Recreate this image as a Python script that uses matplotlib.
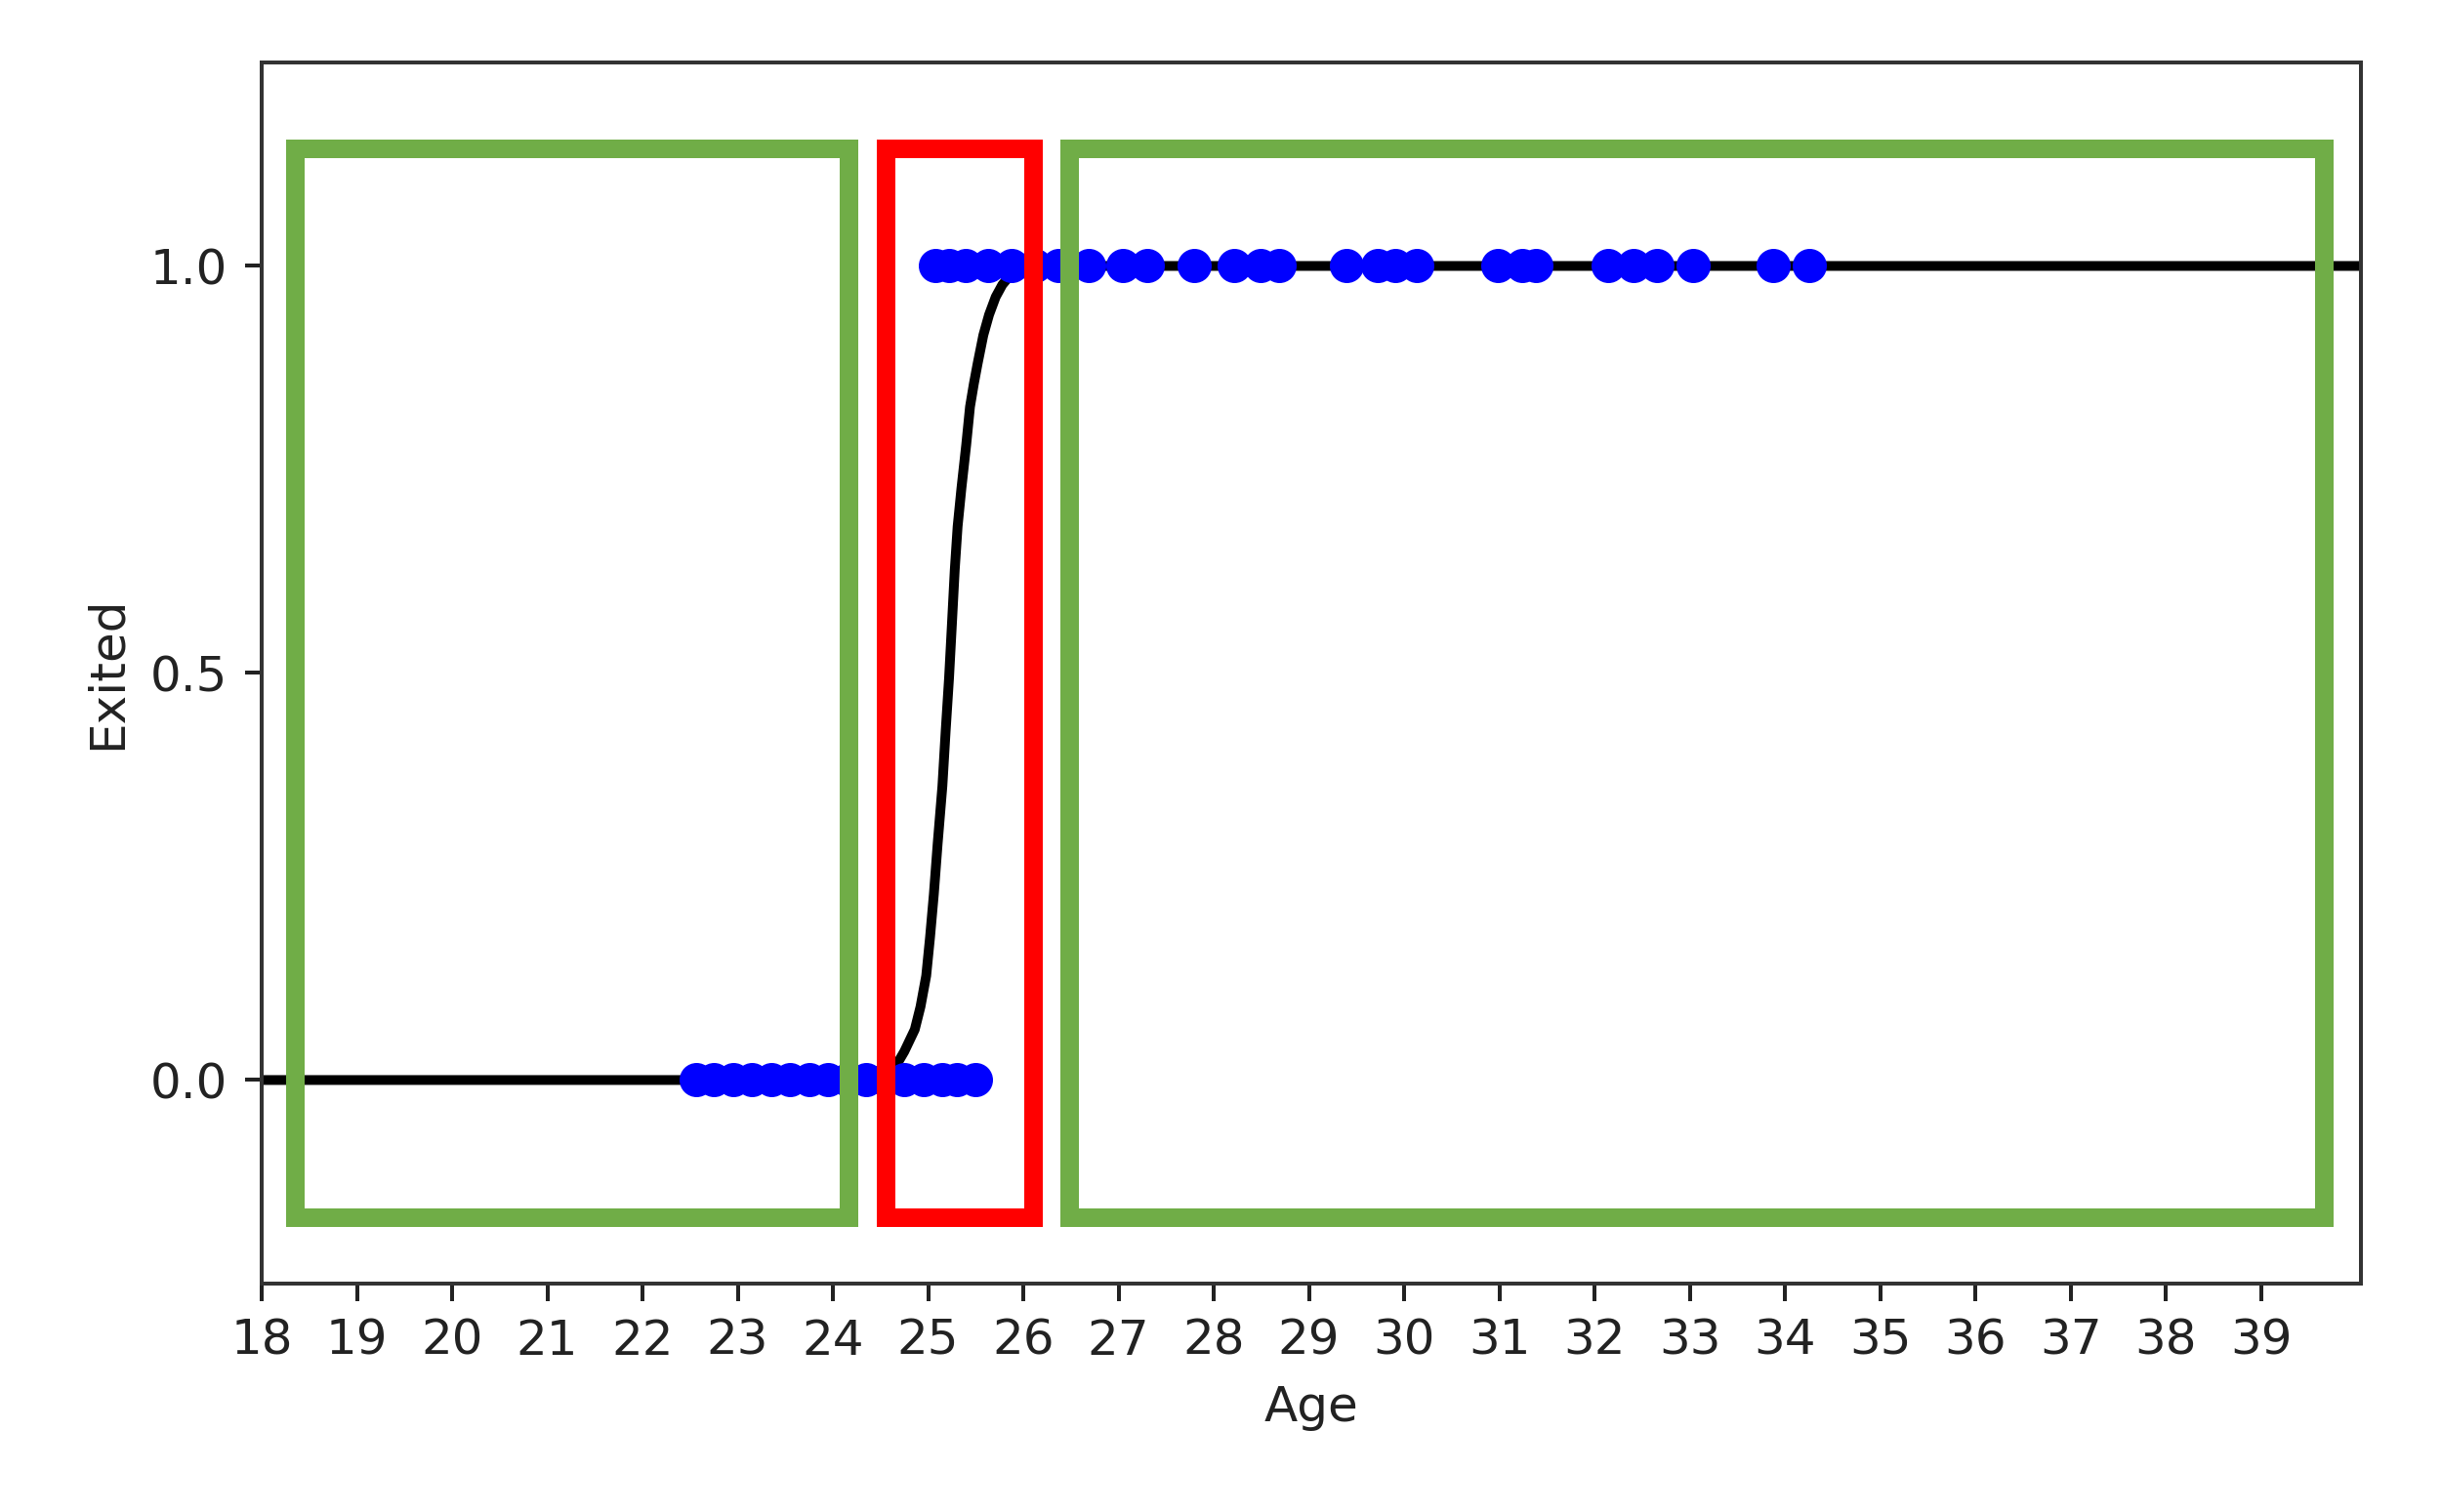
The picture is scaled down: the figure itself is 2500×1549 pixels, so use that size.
import matplotlib
matplotlib.use("Agg")
import matplotlib.pyplot as plt
from matplotlib.patches import Rectangle

# observed customers: age and exited flag
age_stayed = [22.56, 22.75, 22.95, 23.15, 23.35, 23.55, 23.75, 23.95, 24.15,
              24.35, 24.55, 24.75, 24.95, 25.15, 25.3, 25.5]
age_exited = [25.08, 25.22, 25.39, 25.63, 25.88, 26.12, 26.37, 26.69, 27.05,
              27.3, 27.79, 28.21, 28.49, 28.69, 29.39, 29.72, 29.91, 30.13,
              30.98, 31.24, 31.38, 32.14, 32.41, 32.66, 33.03, 33.88, 34.26]

# fitted logistic curve
curve_age = [18.0, 24.4, 24.55, 24.65, 24.75, 24.86, 24.92, 24.98, 25.02,
             25.06, 25.10, 25.15, 25.185, 25.22, 25.25, 25.28, 25.31, 25.35,
             25.40, 25.44, 25.48, 25.52, 25.58, 25.64, 25.71, 25.78, 25.83,
             25.88, 25.95, 26.05, 40.05]
curve_prob = [0.0, 0.0, 0.004, 0.015, 0.035, 0.062, 0.09, 0.128, 0.175,
              0.228, 0.29, 0.361, 0.43, 0.494, 0.56, 0.627, 0.68, 0.727,
              0.78, 0.827, 0.855, 0.880, 0.915, 0.940, 0.962, 0.977, 0.984,
              0.99, 0.996, 1.0, 1.0]

# highlighted regions (age_from, age_to, y_from, y_to)
green_regions = [(18.35, 24.16, -0.169, 1.144), (26.48, 39.66, -0.169, 1.144)]
red_regions = [(24.55, 26.10, -0.169, 1.144)]

fig = plt.figure(figsize=(2500 / 360, 1549 / 360), dpi=360)
ax = fig.add_axes([0.1072, 0.1511, 0.86, 0.8076])

ax.plot(curve_age, curve_prob, color="black", linewidth=2.0, zorder=2)
ax.scatter(age_stayed, [0] * len(age_stayed), color="blue", s=36, zorder=3)
ax.scatter(age_exited, [1] * len(age_exited), color="blue", s=36, zorder=3)

for regions, col in [(green_regions, "#70AD47"), (red_regions, "#FF0000")]:
    for x0, x1, y0, y1 in regions:
        ax.add_patch(Rectangle((x0, y0), x1 - x0, y1 - y0, fill=False,
                               edgecolor=col, linewidth=3.8, zorder=5,
                               joinstyle="miter"))

ax.set_xlim(18, 40.05)
ax.set_ylim(-0.25, 1.25)
ax.set_xticks(range(18, 40))
ax.set_yticks([0.0, 0.5, 1.0])
ax.set_xlabel("Age", fontsize=10, color="#222222")
ax.set_ylabel("Exited", fontsize=10, color="#222222")
ax.tick_params(labelsize=10, colors="#222222")
for s in ax.spines.values():
    s.set_color("#333333")

fig.savefig("out.png", dpi=360)
